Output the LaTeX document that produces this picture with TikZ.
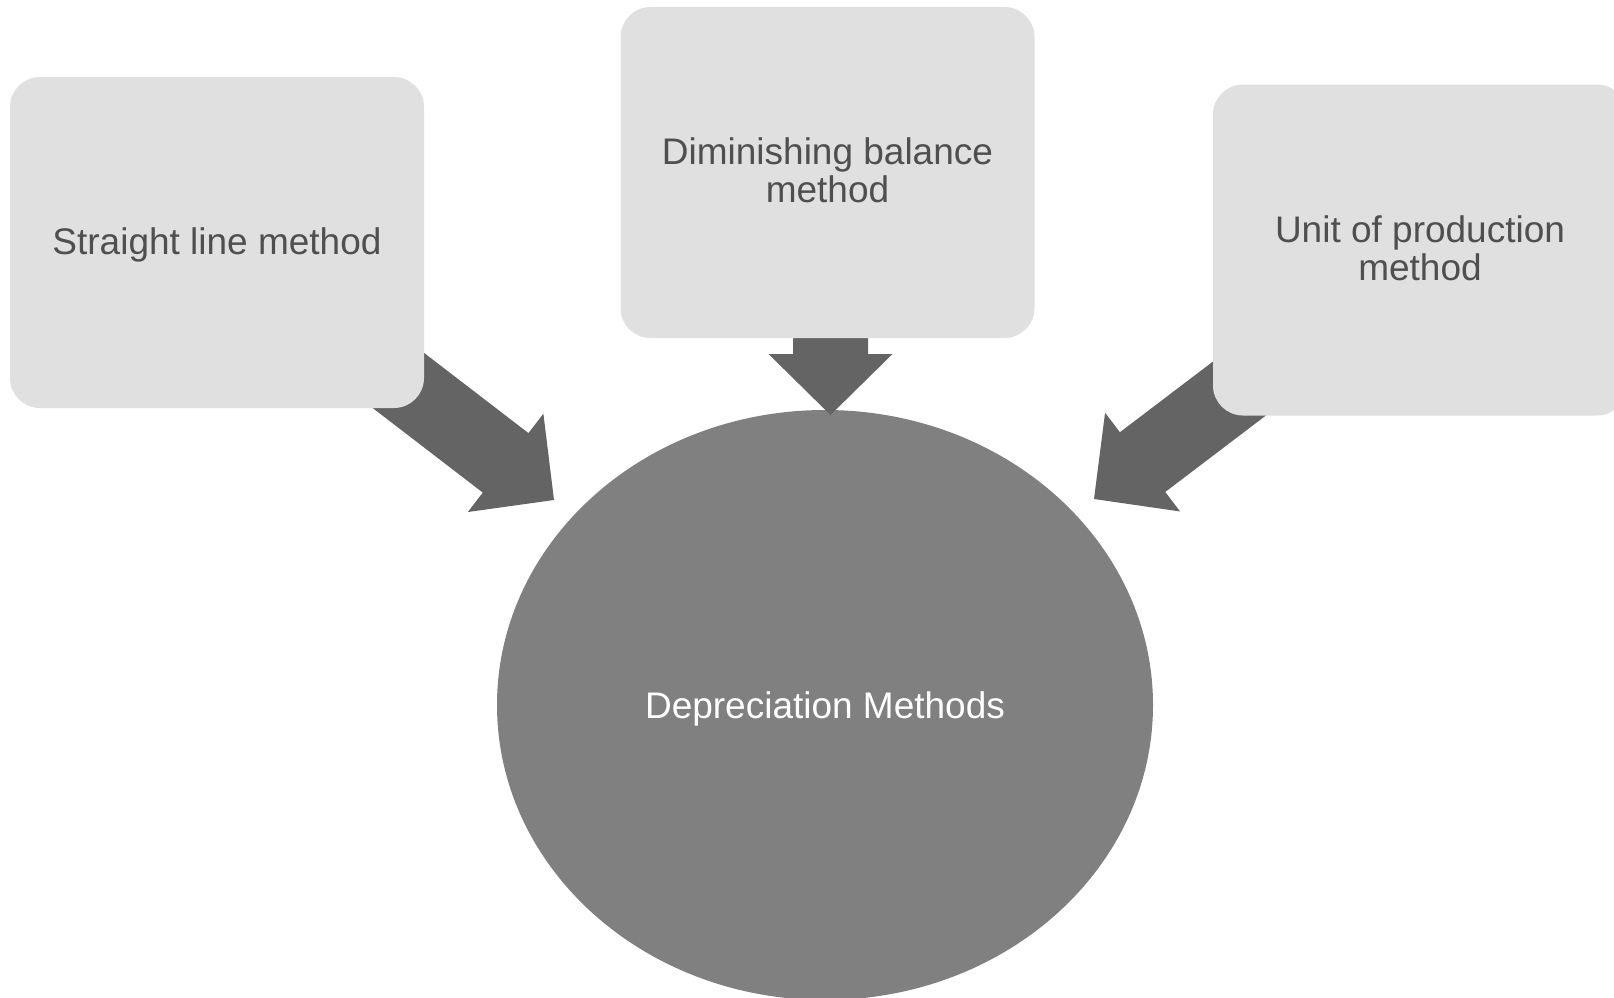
\documentclass[tikz,border=0pt]{standalone}
\usepackage{fontspec}
\setmainfont{Liberation Sans}
\usetikzlibrary{shapes.geometric,calc}
\definecolor{boxfill}{HTML}{E0E0E0}
\definecolor{boxtext}{HTML}{4F4F4F}
\definecolor{arrowc}{HTML}{646464}
\definecolor{ellc}{HTML}{808080}
\newcommand\blockarr[2]{%
  \coordinate (#1b) at ($(#2)!61pt!(#1)$);
  \fill[arrowc] ($(#1)!37.5pt!90:(#2)$) -- ($(#1b)!37.5pt!90:(#2)$) --
    ($(#1b)!62pt!90:(#2)$) -- (#2) -- ($(#1b)!62pt!-90:(#2)$) --
    ($(#1b)!37.5pt!-90:(#2)$) -- ($(#1)!37.5pt!-90:(#2)$) -- cycle;}
\tikzset{
  methodbox/.style={rectangle, rounded corners=30pt, fill=boxfill,
    minimum width=414pt, minimum height=331pt, inner sep=0pt},
  boxlabel/.style={text=boxtext, align=center, inner sep=0pt,
    font=\fontsize{37}{38.5}\selectfont},
  centre/.style={ellipse, fill=ellc, minimum width=656pt,
    minimum height=590pt, inner sep=0pt}
}
\begin{document}
\begin{tikzpicture}[x=1pt,y=-1pt]
\useasboundingbox (0,0) rectangle (1614,998);
\clip (0,0) rectangle (1614,998);
\node[centre] (ell) at (825,705) {};
\node[boxlabel, text=white] (elltext) at (825,709) {Depreciation Methods};
% arrow ends
\coordinate (sL) at (347,341);
\coordinate (tL) at (554,500);
\coordinate (sM) at (830.5,300);
\coordinate (tM) at (830.5,415);
\coordinate (sR) at (1302,341);
\coordinate (tR) at (1094,499);
\blockarr{sL}{tL}
\blockarr{sM}{tM}
\blockarr{sR}{tR}
\node[methodbox] (left) at (217,242.5) {};
\node[boxlabel] (lefttext) at (217,245) {Straight line method};
\node[methodbox] (mid) at (827.5,172.5) {};
\node[boxlabel] (midtext) at (827.5,170.5) {Diminishing balance\\method};
\node[methodbox] (right) at (1420,250) {};
\node[boxlabel] (righttext) at (1420,248.5) {Unit of production\\method};
\end{tikzpicture}
\end{document}
